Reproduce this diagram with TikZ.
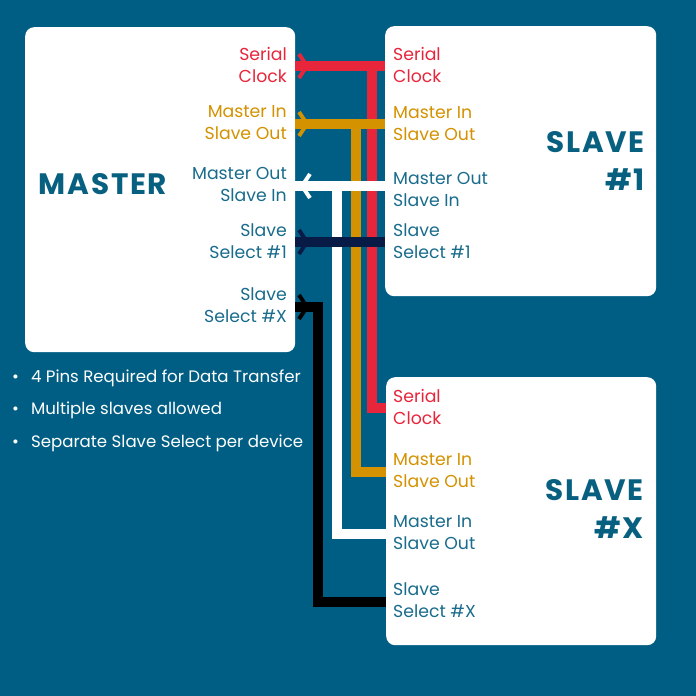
\documentclass[tikz,border=0pt]{standalone}
\usepackage{fontspec}
\setmainfont{Poppins}
\newfontfamily\headfont[LetterSpace=6]{Poppins}
\definecolor{bg}{RGB}{0,94,132}
\definecolor{wred}{RGB}{232,38,59}
\definecolor{worange}{RGB}{212,146,0}
\definecolor{wnavy}{RGB}{8,26,70}
\definecolor{tteal}{RGB}{25,108,140}
\definecolor{thead}{RGB}{8,96,128}
\begin{document}
\begin{tikzpicture}[x=1pt,y=-1pt,
  box/.style={fill=white, rounded corners=9pt, inner sep=0pt, anchor=north west},
  wire/.style={line width=10pt, line join=miter, line cap=butt},
  chev/.style={line width=4pt, line join=miter, line cap=butt},
  lblr/.style={align=right, anchor=east, inner sep=0pt, font=\fontsize{17.3}{22}\selectfont},
  lbll/.style={align=left, anchor=west, inner sep=0pt, font=\fontsize{17.3}{22}\selectfont},
  head/.style={align=right, anchor=east, inner sep=0pt, text=thead, font=\headfont\fontsize{29.5}{38}\selectfont\bfseries},
  bul/.style={anchor=base west, inner sep=0pt, text=white, font=\fontsize{16.6}{18}\selectfont}]
\fill[bg] (0,0) rectangle (696,696);
\useasboundingbox (0,0) rectangle (696,696);
% boxes
\node[box, minimum width=270pt, minimum height=325pt] (master) at (25,27) {};
\node[box, minimum width=271pt, minimum height=270pt] (slaveA) at (385,26) {};
\node[box, minimum width=270pt, minimum height=268pt] (slaveX) at (386,377) {};
% pin coordinates
\coordinate (m1) at (295,66);  \coordinate (s1) at (385,66);
\coordinate (m2) at (295,124); \coordinate (s2) at (385,124);
\coordinate (m3) at (295,186); \coordinate (s3) at (385,186);
\coordinate (m4) at (295,242); \coordinate (s4) at (385,242);
\coordinate (m5) at (295,307);
\coordinate (t1) at (372,66);  \coordinate (x1) at (386,408);
\coordinate (t2) at (356,124); \coordinate (x2) at (386,472);
\coordinate (t3) at (337,186); \coordinate (x3) at (386,534);
\coordinate (t5) at (318,307); \coordinate (x5) at (386,602);
% vertical branches to slave X
\draw[wire, wred] (t1) |- (x1);
\draw[wire, worange] (t2) |- (x2);
\draw[wire, white] (t3) |- (x3);
\draw[wire, black] (m5) -- (t5) |- (x5);
% horizontal buses to slave 1
\draw[wire, wred] (m1) -- (s1);
\draw[wire, worange] (m2) -- (s2);
\draw[wire, white] (m3) -- (s3);
\draw[wire, wnavy] (m4) -- (s4);
% chevrons
\draw[chev, wred] ([shift={(4,-12)}]m1) -- ([shift={(12,0)}]m1) -- ([shift={(4,12)}]m1);
\draw[chev, worange] ([shift={(4,-12)}]m2) -- ([shift={(12,0)}]m2) -- ([shift={(4,12)}]m2);
\draw[chev, white] ([shift={(15,-12)}]m3) -- ([shift={(7,0)}]m3) -- ([shift={(15,12)}]m3);
\draw[chev, wnavy] ([shift={(4,-12)}]m4) -- ([shift={(12,0)}]m4) -- ([shift={(4,12)}]m4);
\draw[chev, black] ([shift={(4,-12)}]m5) -- ([shift={(12,0)}]m5) -- ([shift={(4,12)}]m5);
% master labels
\node[lblr, text=wred] (ml1) at (287,64.5) {Serial\\Clock};
\node[lblr, text=worange] (ml2) at (287,123) {Master In\\Slave Out};
\node[lblr, text=tteal] (ml3) at (287,184.5) {Master Out\\Slave In};
\node[lblr, text=tteal] (ml4) at (287,241.5) {Slave\\Select \#1};
\node[lblr, text=tteal] (ml5) at (287,305.5) {Slave\\Select \#X};
% slave 1 labels
\node[lbll, text=wred] (al1) at (393,64.5) {Serial\\Clock};
\node[lbll, text=worange] (al2) at (393,123.5) {Master In\\Slave Out};
\node[lbll, text=tteal] (al3) at (393,189.5) {Master Out\\Slave In};
\node[lbll, text=tteal] (al4) at (393,241.5) {Slave\\Select \#1};
% slave X labels
\node[lbll, text=wred] (xl1) at (393,406.5) {Serial\\Clock};
\node[lbll, text=worange] (xl2) at (393,470.5) {Master In\\Slave Out};
\node[lbll, text=tteal] (xl3) at (393,532.5) {Master In\\Slave Out};
\node[lbll, text=tteal] (xl4) at (393,600.5) {Slave\\Select \#X};
% headings
\node[head, anchor=center, align=center] (mh) at (103,184) {MASTER};
\node[head] (ah) at (645,161) {SLAVE\\\#1};
\node[head] (xh) at (644,508.5) {SLAVE\\\#X};
% bullets
\node[bul] (b1) at (12,382) {•\hspace{12pt}4 Pins Required for Data Transfer};
\node[bul] (b2) at (12,414) {•\hspace{12pt}Multiple slaves allowed};
\node[bul] (b3) at (12,447) {•\hspace{12pt}Separate Slave Select per device};
\end{tikzpicture}
\end{document}
